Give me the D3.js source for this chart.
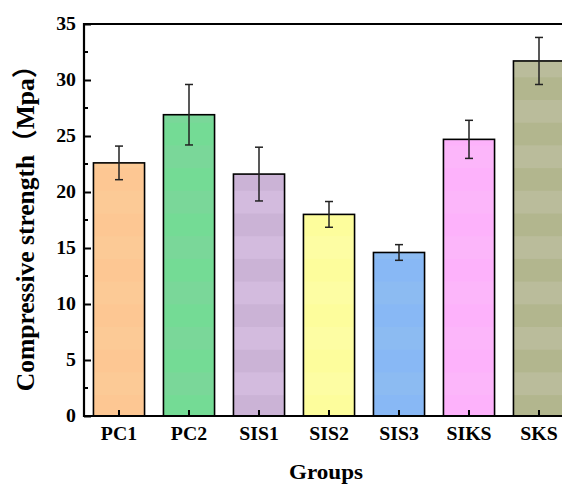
<!DOCTYPE html>
<html>
<head>
<meta charset="utf-8">
<script src="https://cdn.jsdelivr.net/npm/d3@7"></script>
<style>
  html, body { margin: 0; padding: 0; background: #fff; }
  svg { display: block; }
  text { font-family: "Liberation Serif", "Noto Sans CJK SC", serif; font-weight: bold; fill: #000; }
</style>
</head>
<body>
<div id="chart"></div>
<script>
// Compressive strength per mix group (MPa), with standard deviation
const groups = ["PC1", "PC2", "SIS1", "SIS2", "SIS3", "SIKS", "SKS"];
const strength = [22.6, 26.9, 21.6, 18.0, 14.6, 24.7, 31.7];
const stdev = [1.5, 2.7, 2.4, 1.15, 0.7, 1.7, 2.1];
const fills = ["#fdc793", "#74db95", "#cbb3d6", "#fdfd9c", "#88b8f5", "#fdb2fb", "#b2b68e"];
const fillsAlt = ["#fcca96", "#7ad799", "#d3bbde", "#fdfda3", "#8cbbf2", "#fcb6fa", "#babc9b"];
const yTicks = [0, 5, 10, 15, 20, 25, 30, 35];

const W = 562, H = 484;
const margin = { left: 84, top: 24, right: -12, bottom: 68 };
const x0 = margin.left, x1 = W - margin.right;
const y0 = H - margin.bottom, y1 = margin.top;
const stretch = 1.1; // glyphs are drawn slightly wide

const svg = d3.select("#chart").append("svg")
  .attr("width", W).attr("height", H);

const x = d3.scaleBand().domain(groups).range([x0, x1])
  .paddingInner(0.27).paddingOuter(0.135);
const y = d3.scaleLinear().domain([0, 35]).range([y0, y1]);

// faint horizontal banding inside the bars
const defs = svg.append("defs");
const band = 22.7;
groups.forEach((g, i) => {
  const p = defs.append("pattern")
    .attr("id", "fill" + i)
    .attr("patternUnits", "userSpaceOnUse")
    .attr("x", 0).attr("y", 100 % (2 * band))
    .attr("width", 10).attr("height", 2 * band);
  p.append("rect").attr("width", 10).attr("height", band).attr("fill", fillsAlt[i]);
  p.append("rect").attr("y", band).attr("width", 10).attr("height", band).attr("fill", fills[i]);
});

const plot = svg.append("g");

// bars
plot.selectAll("rect.bar").data(groups).join("rect")
  .attr("class", "bar")
  .attr("x", d => x(d))
  .attr("y", (d, i) => y(strength[i]))
  .attr("width", x.bandwidth())
  .attr("height", (d, i) => y(0) - y(strength[i]))
  .attr("fill", (d, i) => `url(#fill${i})`)
  .attr("stroke", "#000").attr("stroke-width", 1.6);

// error bars
const cap = 4;
const eb = plot.selectAll("g.err").data(groups).join("g").attr("class", "err")
  .attr("stroke", "#222").attr("stroke-width", 1.5);
eb.append("line")
  .attr("x1", d => x(d) + x.bandwidth() / 2).attr("x2", d => x(d) + x.bandwidth() / 2)
  .attr("y1", (d, i) => y(strength[i] + stdev[i]))
  .attr("y2", (d, i) => y(strength[i] - stdev[i]));
eb.append("line")
  .attr("x1", d => x(d) + x.bandwidth() / 2 - cap).attr("x2", d => x(d) + x.bandwidth() / 2 + cap)
  .attr("y1", (d, i) => y(strength[i] + stdev[i])).attr("y2", (d, i) => y(strength[i] + stdev[i]));
eb.append("line")
  .attr("x1", d => x(d) + x.bandwidth() / 2 - cap).attr("x2", d => x(d) + x.bandwidth() / 2 + cap)
  .attr("y1", (d, i) => y(strength[i] - stdev[i])).attr("y2", (d, i) => y(strength[i] - stdev[i]));

// frame
svg.append("path")
  .attr("d", `M${x1},${y1}H${x0}V${y0}H${x1}`)
  .attr("fill", "none").attr("stroke", "#000").attr("stroke-width", 2.2);

// y axis: major ticks inward, labels outside
const yAxis = d3.axisLeft(y).tickValues(yTicks).tickSize(-7).tickPadding(0);
const gy = svg.append("g").attr("transform", `translate(${x0},0)`).call(yAxis);
gy.select(".domain").remove();
gy.selectAll(".tick line").attr("stroke", "#000").attr("stroke-width", 2);
gy.selectAll(".tick text")
  .attr("x", 0)
  .attr("transform", `translate(-8,0) scale(${stretch},1)`)
  .style("font-size", "18px").attr("fill", "#000")
  .attr("font-family", "Liberation Serif").attr("font-weight", "bold");

// minor ticks between majors
const minor = d3.range(2.5, 35, 5);
svg.append("g").selectAll("line").data(minor).join("line")
  .attr("x1", x0).attr("x2", x0 + 4)
  .attr("y1", d => y(d)).attr("y2", d => y(d))
  .attr("stroke", "#000").attr("stroke-width", 2);

// x axis: small inward ticks at the group centres
const xAxis = d3.axisBottom(x).tickSize(-6).tickPadding(11);
const gx = svg.append("g").attr("transform", `translate(0,${y0})`).call(xAxis);
gx.select(".domain").remove();
gx.selectAll(".tick line").attr("stroke", "#000").attr("stroke-width", 2);
gx.selectAll(".tick text")
  .attr("transform", `scale(${stretch},1)`)
  .style("font-size", "18px").attr("fill", "#000")
  .attr("font-family", "Liberation Serif").attr("font-weight", "bold");

// axis titles
svg.append("text")
  .attr("transform", `translate(${(x0 + 574) / 2 - 3},479) scale(${stretch},1)`)
  .attr("text-anchor", "middle").style("font-size", "21px")
  .text("Groups");

svg.append("text")
  .attr("transform", `translate(34,222) rotate(-90)`)
  .attr("text-anchor", "middle").style("font-size", "25.5px")
  .text("Compressive strength（Mpa）");
</script>
</body>
</html>
